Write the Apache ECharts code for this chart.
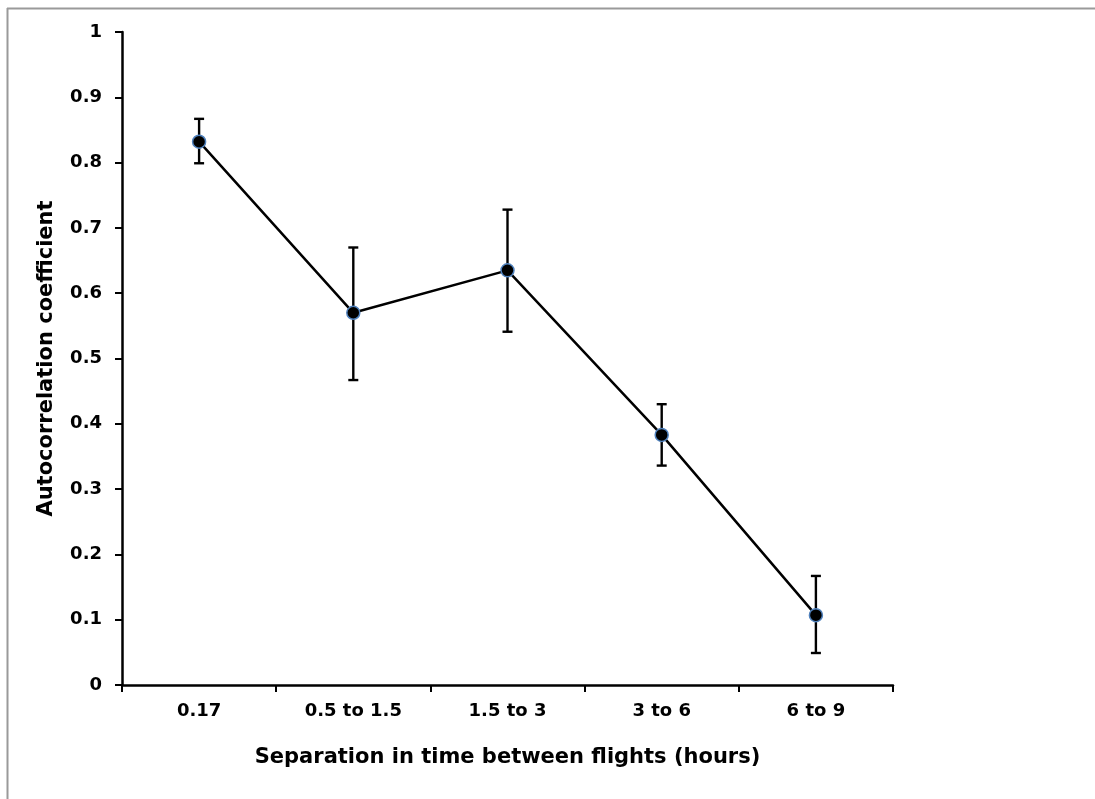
<!DOCTYPE html>
<html>
<head>
<meta charset="utf-8">
<script src="https://cdn.jsdelivr.net/npm/echarts@6/dist/echarts.min.js"></script>
<style>
  html, body { margin: 0; padding: 0; background: #fff; }
  #chart { width: 1095px; height: 799px; }
</style>
</head>
<body>
<div id="chart"></div>
<script>
// Time separation classes between flights
const categories = ['0.17', '0.5 to 1.5', '1.5 to 3', '3 to 6', '6 to 9'];
// Mean autocorrelation coefficient per class
const meanValues = [0.832, 0.570, 0.635, 0.383, 0.107];
// Error bar limits
const upperValues = [0.867, 0.670, 0.728, 0.430, 0.167];
const lowerValues = [0.799, 0.467, 0.541, 0.336, 0.049];

const errorData = categories.map((c, i) => [i, lowerValues[i], upperValues[i]]);

const chart = echarts.init(document.getElementById('chart'), null, { renderer: 'canvas' });

const fontFamily = '"DejaVu Sans", "Liberation Sans", Arial, sans-serif';

chart.setOption({
  animation: false,
  backgroundColor: '#ffffff',
  grid: { left: 122, right: 202, top: 32, bottom: 114, containLabel: false },
  graphic: [
    { type: 'line', shape: { x1: 7, y1: 8.5, x2: 1095, y2: 8.5 }, style: { stroke: '#9a9a9a', lineWidth: 2 }, silent: true },
    { type: 'line', shape: { x1: 7.5, y1: 8, x2: 7.5, y2: 799 }, style: { stroke: '#9a9a9a', lineWidth: 2 }, silent: true }
  ],
  xAxis: {
    type: 'category',
    data: categories,
    boundaryGap: true,
    name: 'Separation in time between flights (hours)',
    nameLocation: 'middle',
    nameGap: 62,
    nameTextStyle: { fontFamily, fontSize: 21, fontWeight: 'bold', color: '#000', verticalAlign: 'top' },
    axisLine: { show: true, lineStyle: { color: '#000', width: 2.5 } },
    axisTick: { show: true, inside: false, length: 7, interval: 0, lineStyle: { color: '#000', width: 2 } },
    axisLabel: { margin: 17, fontFamily, fontSize: 18, fontWeight: 'bold', color: '#000', interval: 0 },
    splitLine: { show: false }
  },
  yAxis: {
    type: 'value',
    min: 0,
    max: 1,
    interval: 0.1,
    name: 'Autocorrelation coefficient',
    nameLocation: 'middle',
    nameGap: 65,
    nameTextStyle: { fontFamily, fontSize: 21, fontWeight: 'bold', color: '#000' },
    axisLine: { show: true, lineStyle: { color: '#000', width: 2.5 } },
    axisTick: { show: true, inside: false, length: 7, lineStyle: { color: '#000', width: 2 } },
    axisLabel: { margin: 20, fontFamily, fontSize: 18, fontWeight: 'bold', color: '#000' },
    splitLine: { show: false }
  },
  series: [
    {
      type: 'custom',
      z: 1,
      data: errorData,
      encode: { x: 0, y: [1, 2] },
      renderItem: function (params, api) {
        const x = api.value(0);
        const lo = api.coord([x, api.value(1)]);
        const hi = api.coord([x, api.value(2)]);
        const half = 5;
        const style = { stroke: '#000', lineWidth: 2.4 };
        return {
          type: 'group',
          children: [
            { type: 'line', shape: { x1: lo[0], y1: lo[1], x2: hi[0], y2: hi[1] }, style },
            { type: 'line', shape: { x1: hi[0] - half, y1: hi[1], x2: hi[0] + half, y2: hi[1] }, style },
            { type: 'line', shape: { x1: lo[0] - half, y1: lo[1], x2: lo[0] + half, y2: lo[1] }, style }
          ]
        };
      }
    },
    {
      type: 'line',
      z: 3,
      data: meanValues,
      symbol: 'circle',
      symbolSize: 13,
      lineStyle: { color: '#000', width: 2.5 },
      itemStyle: { color: '#000', borderColor: '#4f81bd', borderWidth: 1.5 }
    }
  ]
});
</script>
</body>
</html>
